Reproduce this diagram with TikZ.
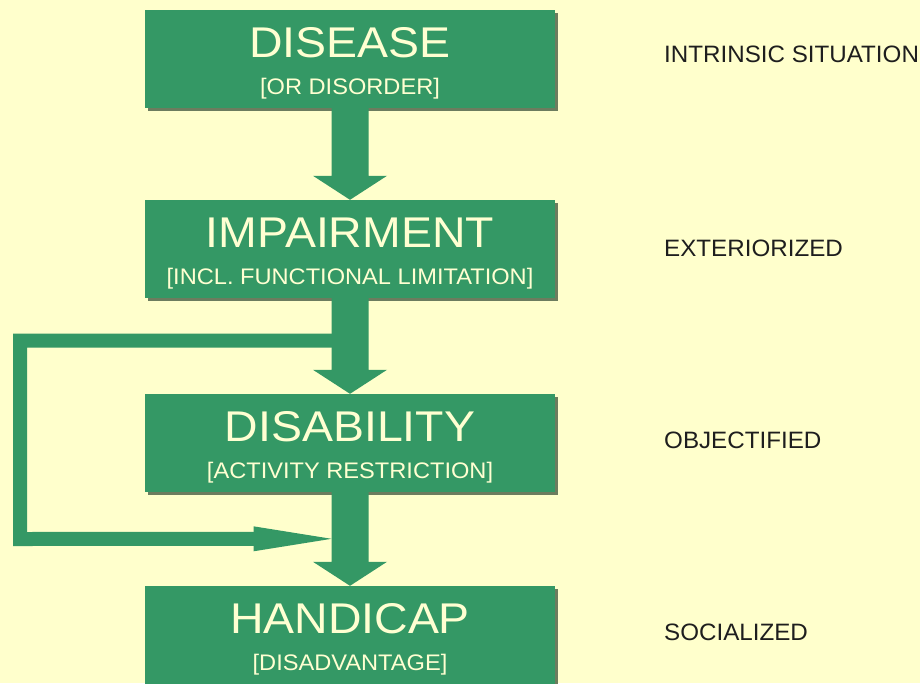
\documentclass[tikz,border=0pt]{standalone}
\usepackage{fontspec}
\setmainfont{Liberation Sans}
\newfontfamily\titlefont[FakeStretch=1.08]{Liberation Sans}
\newfontfamily\subfont[FakeStretch=1.05]{Liberation Sans}
\newfontfamily\sidefont[FakeStretch=1.02]{Liberation Sans}
\usetikzlibrary{calc,shadows}
\definecolor{bg}{RGB}{255,255,204}
\definecolor{boxgreen}{RGB}{52,152,101}
\definecolor{shadowc}{RGB}{108,124,94}
\definecolor{boxtext}{RGB}{255,255,210}
\definecolor{labeltext}{RGB}{30,30,30}
\newcommand\bigarrowdraw[2]{%
  \fill[boxgreen] ($(#1.south)+(-18.5,0)$) -- ($(#2.north)+(-18.5,-24)$)
    -- ($(#2.north)+(-37,-24)$) -- (#2.north) -- ($(#2.north)+(37,-24)$)
    -- ($(#2.north)+(18.5,-24)$) -- ($(#1.south)+(18.5,0)$) -- cycle;}
\begin{document}
\begin{tikzpicture}[x=1pt,y=-1pt,
  box/.style={fill=boxgreen, minimum width=410pt, minimum height=98pt, inner sep=0pt,
    general shadow={fill=shadowc, shadow xshift=3pt, shadow yshift=-3pt}},
  titletext/.style={text=boxtext, anchor=base, inner sep=0pt, font=\titlefont\fontsize{43}{43}\selectfont},
  subtext/.style={text=boxtext, anchor=base, inner sep=0pt, font=\subfont\fontsize{22.5}{22.5}\selectfont},
  sidelabel/.style={text=labeltext, anchor=base west, inner sep=0pt, font=\sidefont\fontsize{23.7}{23.7}\selectfont},
  loopline/.style={draw=boxgreen, line width=14pt, line join=miter, line cap=butt}]
\fill[bg] (0,0) rectangle (920,683);
\useasboundingbox (0,0) rectangle (920,683);

\node[box] (dis) at (350,59) {};
\node[box] (imp) at (350,249) {};
\node[box] (dsb) at (350,443) {};
\node[box] (hand) at (350,635) {};

\node[titletext] (dist) at ($(dis.north)+(0,48)$) {DISEASE};
\node[subtext] (diss) at ($(dis.north)+(0,85)$) {[OR DISORDER]};
\node[titletext] (impt) at ($(imp.north)+(0,48)$) {IMPAIRMENT};
\node[subtext] (imps) at ($(imp.north)+(0,85)$) {[INCL. FUNCTIONAL LIMITATION]};
\node[titletext] (dsbt) at ($(dsb.north)+(0,48)$) {DISABILITY};
\node[subtext] (dsbs) at ($(dsb.north)+(0,85)$) {[ACTIVITY RESTRICTION]};
\node[titletext] (handt) at ($(hand.north)+(0,48)$) {HANDICAP};
\node[subtext] (hands) at ($(hand.north)+(0,85)$) {[DISADVANTAGE]};

\node[sidelabel] (l1) at (664,62) {INTRINSIC SITUATION};
\node[sidelabel] (l2) at (664,256) {EXTERIORIZED};
\node[sidelabel] (l3) at (664,448) {OBJECTIFIED};
\node[sidelabel] (l4) at (664,640) {SOCIALIZED};

\bigarrowdraw{dis}{imp}
\bigarrowdraw{imp}{dsb}
\bigarrowdraw{dsb}{hand}

\coordinate (fbstart) at ($(imp.south)+(-18,42.5)$);
\coordinate (fbend) at ($(hand.north)+(-18.5,-47)$);
\coordinate (fbc1) at (20,340.5);
\coordinate (fbc2) at (20,539);
\coordinate (fbbase) at ($(fbend)+(-78,0)$);
\draw[loopline] (fbstart) -- (fbc1) -- (fbc2) -- ($(fbbase)+(1,0)$);
\fill[boxgreen] ($(fbbase)+(0,-12.5)$) -- (fbend) -- ($(fbbase)+(0,12.5)$) -- cycle;
\end{tikzpicture}
\end{document}
